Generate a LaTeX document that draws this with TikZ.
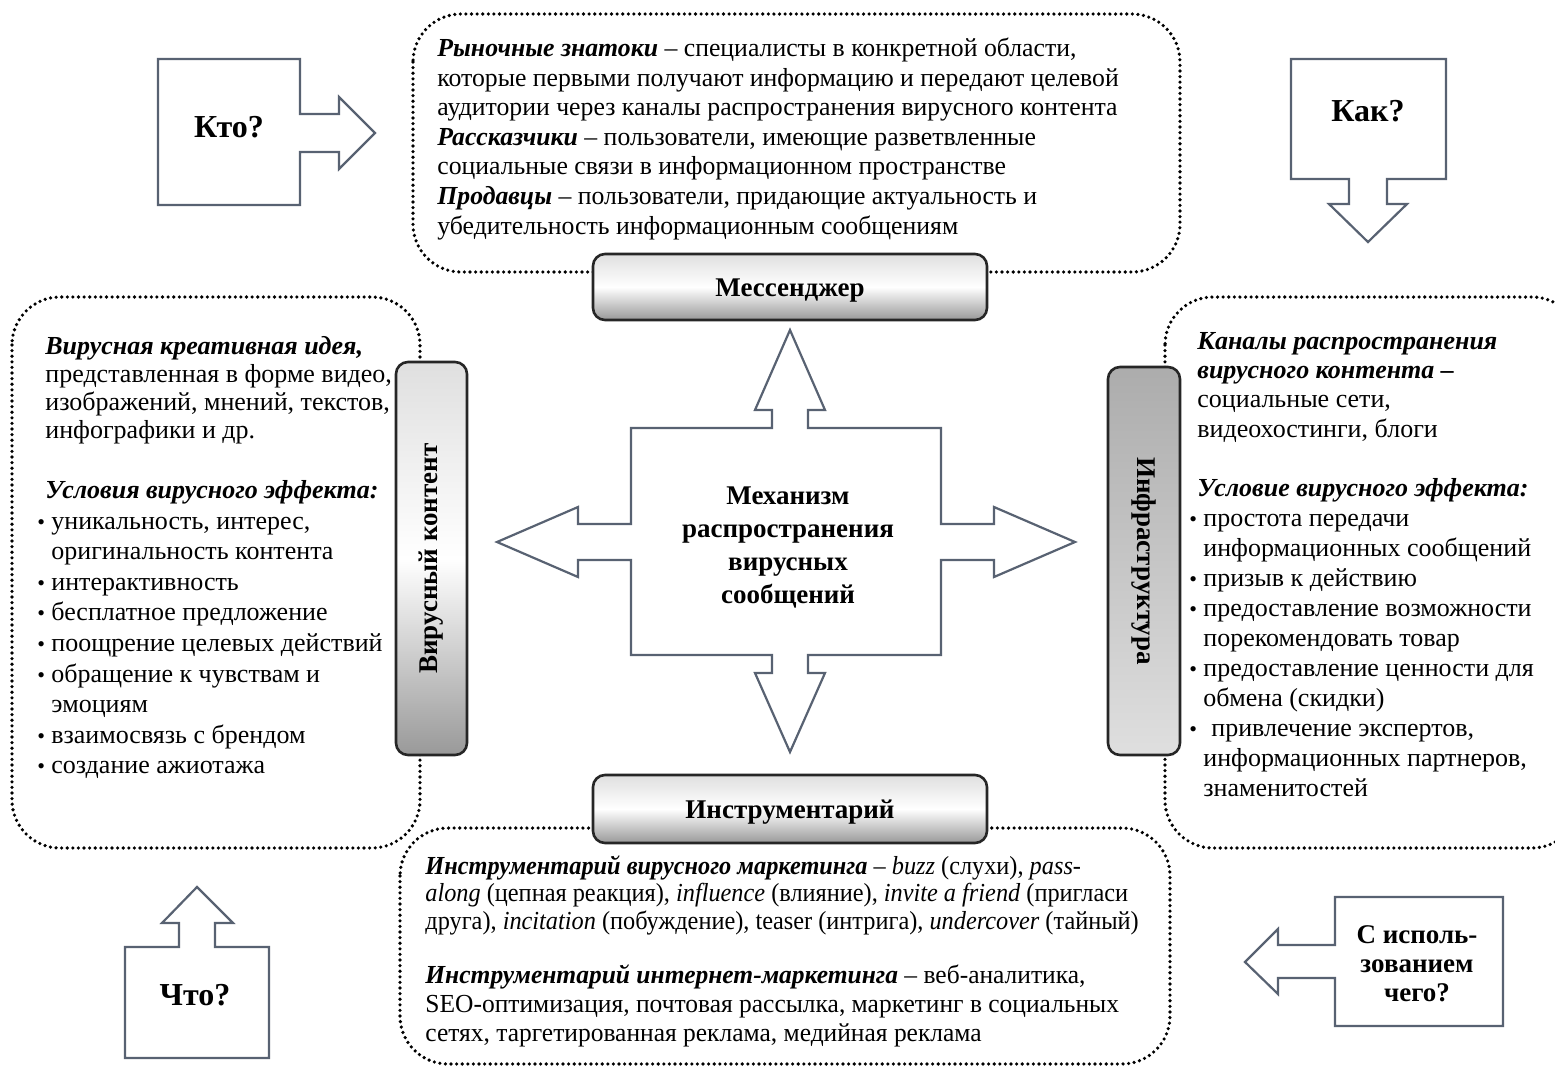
\documentclass[tikz,border=0pt]{standalone}
\usepackage{fontspec}
\setmainfont{Liberation Serif}
\definecolor{arrowc}{RGB}{88,98,114}
\newcommand{\fl}{\rule{0pt}{10pt}}
\newcommand{\bi}[1]{\textbf{\textit{#1}}}
\newcommand{\bul}{\makebox[7pt][l]{\fontsize{11}{11}\selectfont•}}
\newcommand{\ind}{\hspace*{7pt}}
\begin{document}
\begin{tikzpicture}[x=0.5pt,y=-0.5pt,
  dotbox/.style={line width=1.8pt, dash pattern=on 0pt off 2.8pt, line cap=round, rounded corners=24pt},
  qarrow/.style={draw=arrowc, line width=1.1pt, fill=white, line join=miter},
  bar/.style={draw=black!85, line width=1.3pt, rounded corners=6pt, top color=gray!25, bottom color=gray!80, middle color=white, inner sep=0pt, font=\fontsize{13.5}{16}\selectfont\bfseries},
  hbar/.style={bar, text height=11.5pt, text depth=2.5pt},
  barr/.style={bar, top color=gray!65, bottom color=gray!25},
  body/.style={anchor=north west, inner sep=0pt, align=left, font=\fontsize{13}{14.5}\selectfont},
  qtext/.style={font=\fontsize{16}{19}\selectfont\bfseries, inner sep=0pt}
]
\useasboundingbox (0,0) rectangle (1555,1067);
\fill[white] (0,0) rectangle (1555,1067);

% dotted boxes
\draw[dotbox] (413,14) rectangle (1180,272);
\draw[dotbox] (12,297) rectangle (420,848);
\draw[dotbox] (1165,297) rectangle (1580,848);
\draw[dotbox] (400,828) rectangle (1170,1064);

% bars
\node[hbar, minimum width=197pt, minimum height=33pt] (mess) at (790,287) {Мессенджер};
\node[hbar, minimum width=197pt, minimum height=34pt] (instr) at (790,809) {Инструментарий};
\node[bar, rotate=90, minimum width=196.5pt, minimum height=35.5pt] (vk) at (431.5,558.5) {Вирусный контент};
\node[barr, rotate=-90, minimum width=194pt, minimum height=36pt] (infra) at (1144,561) {Инфраструктура};

% question arrows
\draw[qarrow] (158,59) -- (300,59) -- (300,114) -- (339,114) -- (339,97) -- (375,133) -- (339,169) -- (339,152) -- (300,152) -- (300,205) -- (158,205) -- cycle;
\node[qtext] (kto) at (229,127) {Кто?};
\draw[qarrow] (1291,59) -- (1446,59) -- (1446,179) -- (1387,179) -- (1387,204) -- (1407,204) -- (1368,242) -- (1329,204) -- (1349,204) -- (1349,179) -- (1291,179) -- cycle;
\node[qtext] (kak) at (1368,111) {Как?};
\draw[qarrow] (125,947) -- (179,947) -- (179,923) -- (162,923) -- (197,887) -- (233,923) -- (215,923) -- (215,947) -- (269,947) -- (269,1058) -- (125,1058) -- cycle;
\node[qtext] (chto) at (195,995) {Что?};
\draw[qarrow] (1335,897) -- (1503,897) -- (1503,1026) -- (1335,1026) -- (1335,978) -- (1278,978) -- (1278,994) -- (1245,962) -- (1278,929) -- (1278,945) -- (1335,945) -- cycle;
\node[font=\fontsize{13.5}{14.5}\selectfont\bfseries, align=center, inner sep=0pt] (schem) at (1417,964) {С исполь-\\зованием\\чего?};

% central cross
\draw[qarrow] (790,330) -- (825,410) -- (808,410) -- (808,428) -- (941,428) -- (941,524) -- (994,524) -- (994,507) -- (1075,542) -- (994,577) -- (994,560) -- (941,560) -- (941,655) -- (808,655) -- (808,673) -- (825,673) -- (790,752) -- (755,673) -- (772,673) -- (772,655) -- (631,655) -- (631,560) -- (578,560) -- (578,577) -- (497,542) -- (578,507) -- (578,524) -- (631,524) -- (631,428) -- (772,428) -- (772,410) -- (755,410) -- cycle;
\node[font=\fontsize{13.5}{16.5}\selectfont\bfseries, align=center, inner sep=0pt] (mech) at (788,547) {Механизм\\распространения\\вирусных\\сообщений};

% top text
\node[body, font=\fontsize{13}{14.8}\selectfont\addfontfeatures{FakeStretch=0.99}] (toptext) at (437,36) {\fl\bi{Рыночные знатоки} – специалисты в конкретной области,\\
которые первыми получают информацию и передают целевой\\
аудитории через каналы распространения вирусного контента\\
\bi{Рассказчики} – пользователи, имеющие разветвленные\\
социальные связи в информационном пространстве\\
\bi{Продавцы} – пользователи, придающие актуальность и\\
убедительность информационным сообщениям};

% left text
\node[body, font=\fontsize{13}{14}\selectfont] (lefta) at (45,334) {\fl\bi{Вирусная креативная идея,}\\
представленная в форме видео,\\
изображений, мнений, текстов,\\
инфографики и др.};
\node[body, font=\fontsize{13}{15.3}\selectfont] (leftb) at (37,478) {\fl\hspace*{4pt}\bi{Условия вирусного эффекта:}\\
\bul уникальность, интерес,\\
\ind оригинальность контента\\
\bul интерактивность\\
\bul бесплатное предложение\\
\bul поощрение целевых действий\\
\bul обращение к чувствам и\\
\ind эмоциям\\
\bul взаимосвязь с брендом\\
\bul создание ажиотажа};

% right text
\node[body, font=\fontsize{13}{14.6}\selectfont] (righta) at (1197,329) {\fl\bi{Каналы распространения}\\
\bi{вирусного контента –}\\
социальные сети,\\
видеохостинги, блоги};
\node[body, font=\fontsize{13}{15}\selectfont] (rightb) at (1189,476) {\fl\hspace*{4pt}\bi{Условие вирусного эффекта:}\\
\bul простота передачи\\
\ind информационных сообщений\\
\bul призыв к действию\\
\bul предоставление возможности\\
\ind порекомендовать товар\\
\bul предоставление ценности для\\
\ind обмена (скидки)\\
\bul\hspace*{4pt}привлечение экспертов,\\
\ind информационных партнеров,\\
\ind знаменитостей};

% bottom text
\node[body, font=\fontsize{13}{13.7}\selectfont\addfontfeatures{FakeStretch=0.935}] (bota) at (425,854) {\fl\bi{Инструментарий вирусного маркетинга} – \textit{buzz} (слухи), \textit{pass-}\\
\textit{along} (цепная реакция), \textit{influence} (влияние), \textit{invite a friend} (пригласи\\
друга), \textit{incitation} (побуждение), teaser (интрига), \textit{undercover} (тайный)};
\node[body, font=\fontsize{13}{14.5}\selectfont\addfontfeatures{FakeStretch=0.98}] (botb) at (425,963) {\fl\bi{Инструментарий интернет-маркетинга} – веб-аналитика,\\
SEO-оптимизация, почтовая рассылка, маркетинг в социальных\\
сетях, таргетированная реклама, медийная реклама};
\end{tikzpicture}
\end{document}
